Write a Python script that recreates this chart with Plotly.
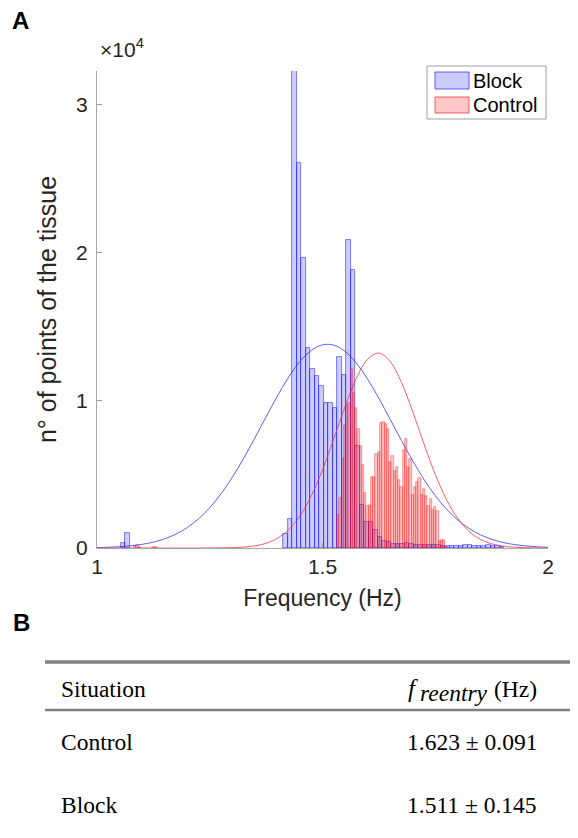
import plotly.graph_objects as go

# ---------------- data ----------------
blue_centers = [1.0575, 1.0675, 1.4175, 1.4275, 1.4375, 1.4475, 1.4575, 1.4675, 1.4775,
                1.4875, 1.4975, 1.5075, 1.5175, 1.5275, 1.5375, 1.5475, 1.5575, 1.5675,
                1.5775, 1.5875, 1.5975, 1.6075, 1.6175, 1.6275, 1.6375, 1.6475, 1.6575,
                1.6675, 1.6775, 1.6875, 1.6975, 1.7075, 1.7175, 1.7275, 1.7375, 1.7475,
                1.7575, 1.7675, 1.7775, 1.7875, 1.7975, 1.8075, 1.8175, 1.8275, 1.8375,
                1.8475, 1.8575, 1.8675, 1.8775, 1.8875, 1.8975]
blue_counts = [350, 1030, 920, 1940, 32300, 26060, 19640, 13560, 12140,
               11640, 10970, 9840, 9820, 9480, 12930, 11720, 20880, 18830,
               6900, 2900, 1745, 1745, 1200, 730, 500, 380, 290,
               260, 300, 330, 300, 230, 190, 190, 190, 180,
               170, 120, 120, 120, 130, 150, 170, 170, 150,
               140, 160, 170, 140, 110, 80]

red_centers = [1.085, 1.090, 1.095, 1.125, 1.130,
               1.535, 1.540, 1.545, 1.550, 1.555, 1.560, 1.565, 1.570, 1.575, 1.580,
               1.585, 1.590, 1.595, 1.600, 1.605, 1.610, 1.615, 1.620, 1.625, 1.630,
               1.635, 1.640, 1.645, 1.650, 1.655, 1.660, 1.665, 1.670, 1.675, 1.680,
               1.685, 1.690, 1.695, 1.700, 1.705, 1.710, 1.715, 1.720, 1.725, 1.730,
               1.735, 1.740, 1.745, 1.750, 1.755, 1.760, 1.765, 1.770, 1.775]
red_counts = [150, 170, 100, 60, 40,
              2250, 3390, 6000, 8300, 9700, 9800, 12100, 10500, 9470, 8050,
              6930, 5640, 3730, 2870, 2900, 4800, 4800, 6390, 6510, 8460,
              8500, 8400, 8090, 5800, 6200, 5240, 5500, 4630, 4140, 6610,
              7410, 5500, 6030, 3610, 4130, 4450, 4760, 3610, 4000, 3500,
              2830, 3300, 2600, 2800, 2490, 460, 575, 575, 100]

curve_x = [1.000, 1.025, 1.050, 1.075, 1.100, 1.125, 1.150, 1.175, 1.200, 1.225,
           1.250, 1.275, 1.300, 1.325, 1.350, 1.375, 1.400, 1.425, 1.450, 1.475,
           1.500, 1.525, 1.550, 1.575, 1.600, 1.625, 1.650, 1.675, 1.700, 1.725,
           1.750, 1.775, 1.800, 1.825, 1.850, 1.875, 1.900, 1.925, 1.950, 1.975, 2.000]
blue_fit = [28, 50, 88, 150, 248, 399, 622, 941, 1384, 1973,
            2731, 3668, 4786, 6060, 7453, 8887, 10295, 11574, 12631, 13382,
            13760, 13736, 13310, 12519, 11431, 10132, 8715, 7278, 5904, 4645,
            3548, 2632, 1894, 1322, 897, 591, 377, 234, 141, 83, 47]
red_fit = [0, 0, 0, 0, 0, 0, 0, 0, 0, 1,
           3, 9, 24, 62, 147, 322, 657, 1238, 2167, 3519,
           5293, 7391, 9569, 11487, 12786, 13197, 12631, 11211, 9228, 7042,
           4983, 3272, 1991, 1123, 588, 285, 128, 54, 21, 7, 2]

x_ticks = [1, 1.5, 2]
x_tick_text = ["1", "1.5", "2"]
y_ticks = [0, 10000, 20000, 30000]
y_tick_text = ["0", "1", "2", "3"]

series_names = ["Block", "Control"]
table_header = ["Situation", "(Hz)"]
table_rows = [["Control", "1.623 ± 0.091"], ["Block", "1.511 ± 0.145"]]

# ---------------- layout geometry ----------------
# the page body has an 8 px margin, so the figure is drawn 8 px smaller
OFF = 8
W, H = 578 - OFF, 838 - OFF
L, R, T, B = 97 - OFF, 30, 71 - OFF, 290
PW, PH = W - L - R, H - T - B


def px(X):  # reference page x -> paper
    return (X - OFF - L) / PW


def py(Y):  # reference page y -> paper
    return (H - B - (Y - OFF)) / PH


BLUE_FILL = "rgba(0,0,255,0.2)"
BLUE_EDGE = "rgba(0,0,255,0.6)"
RED_FILL = "rgba(255,0,0,0.22)"
RED_EDGE = "rgba(255,0,0,0.6)"
AX = "#262626"
SANS = "Liberation Sans, Arial, sans-serif"
SERIF = "Liberation Serif, Times New Roman, serif"

fig = go.Figure()
fig.add_trace(go.Bar(x=blue_centers, y=blue_counts, width=0.01, name=series_names[0],
                     marker=dict(color=BLUE_FILL, line=dict(color=BLUE_EDGE, width=0.8)),
                     showlegend=False))
fig.add_trace(go.Bar(x=red_centers, y=red_counts, width=0.005, name=series_names[1],
                     marker=dict(color=RED_FILL, line=dict(color=RED_EDGE, width=0.6)),
                     showlegend=False))
fig.add_trace(go.Scatter(x=curve_x, y=blue_fit, mode="lines", line_shape="spline",
                         line=dict(color="rgba(40,40,255,0.75)", width=1), showlegend=False))
fig.add_trace(go.Scatter(x=curve_x, y=red_fit, mode="lines", line_shape="spline",
                         line=dict(color="rgba(255,40,40,0.75)", width=1), showlegend=False))

fig.update_layout(
    width=W, height=H,
    margin=dict(l=L, r=R, t=T, b=B),
    paper_bgcolor="white", plot_bgcolor="white",
    barmode="overlay", bargap=0,
    font=dict(family=SANS, color=AX, size=21),
)
fig.update_xaxes(range=[1, 2], tickvals=x_ticks, ticktext=x_tick_text,
                 ticks="inside", ticklen=5, tickcolor="#a0a0a0",
                 showline=True, linecolor="#a8a8a8", linewidth=1,
                 showgrid=False, zeroline=False,
                 tickfont=dict(size=21, color=AX),
                 title=dict(text="Frequency (Hz)", font=dict(size=23, color=AX), standoff=12))
fig.update_yaxes(range=[0, 32300], tickvals=y_ticks, ticktext=y_tick_text,
                 ticks="inside", ticklen=5, tickcolor="#a0a0a0",
                 showline=True, linecolor="#a8a8a8", linewidth=1,
                 showgrid=False, zeroline=False, ticklabelstandoff=4,
                 tickfont=dict(size=21, color=AX),
                 title=dict(text="n° of points of the tissue", font=dict(size=25, color=AX), standoff=12))

shapes = []
ann = []

# exponent label
ann.append(dict(x=px(98), y=py(48), xref="paper", yref="paper", xanchor="left", yanchor="middle",
                text="×10<sup>4</sup>", showarrow=False, font=dict(size=21, color=AX, family=SANS)))

# legend (manual)
shapes.append(dict(type="rect", xref="paper", yref="paper", x0=px(427), x1=px(546), y0=py(66), y1=py(119),
                   line=dict(color="#a0a0a0", width=1), fillcolor="white"))
shapes.append(dict(type="rect", xref="paper", yref="paper", x0=px(435), x1=px(469), y0=py(72), y1=py(89),
                   line=dict(color=BLUE_EDGE, width=1), fillcolor=BLUE_FILL))
shapes.append(dict(type="rect", xref="paper", yref="paper", x0=px(435), x1=px(469), y0=py(97), y1=py(113),
                   line=dict(color=RED_EDGE, width=1), fillcolor=RED_FILL))
ann.append(dict(x=px(471), y=py(81), xref="paper", yref="paper", xanchor="left", yanchor="middle",
                text=series_names[0], showarrow=False, font=dict(size=20, color="black", family=SANS)))
ann.append(dict(x=px(471), y=py(105), xref="paper", yref="paper", xanchor="left", yanchor="middle",
                text=series_names[1], showarrow=False, font=dict(size=20, color="black", family=SANS)))

# panel letters
ann.append(dict(x=px(11), y=py(20), xref="paper", yref="paper", xanchor="left", yanchor="middle",
                text="<b>A</b>", showarrow=False, font=dict(size=24, color="black", family=SANS),
                borderpad=0))
ann.append(dict(x=px(11), y=py(622), xref="paper", yref="paper", xanchor="left", yanchor="middle",
                text="<b>B</b>", showarrow=False, font=dict(size=24, color="black", family=SANS)))

# table
shapes.append(dict(type="line", xref="paper", yref="paper", x0=px(45), x1=px(578), y0=py(662), y1=py(662),
                   line=dict(color="#808080", width=3.5)))
shapes.append(dict(type="line", xref="paper", yref="paper", x0=px(45), x1=px(578), y0=py(710), y1=py(710),
                   line=dict(color="#808080", width=2.5)))
TF = dict(size=23.5, color="black", family=SERIF)
ann.append(dict(x=px(59), y=py(689), xref="paper", yref="paper", xanchor="left", yanchor="middle",
                text=table_header[0], showarrow=False, font=TF))
ann.append(dict(x=px(539), y=py(689), xref="paper", yref="paper", xanchor="right", yanchor="middle",
                text=table_header[1], showarrow=False, font=TF))
ann.append(dict(x=px(490), y=py(693), xref="paper", yref="paper", xanchor="right", yanchor="middle",
                text="<i>reentry</i>", showarrow=False, font=dict(size=23.5, color="black", family=SERIF)))
ann.append(dict(x=px(420), y=py(688), xref="paper", yref="paper", xanchor="right", yanchor="middle",
                text="<i>f</i>", showarrow=False, font=dict(size=25, color="black", family=SERIF)))
for i, (lab, val) in enumerate(table_rows):
    yy = [742, 805][i]
    ann.append(dict(x=px(59), y=py(yy), xref="paper", yref="paper", xanchor="left", yanchor="middle",
                    text=lab, showarrow=False, font=TF))
    ann.append(dict(x=px(539), y=py(yy), xref="paper", yref="paper", xanchor="right", yanchor="middle",
                    text=val, showarrow=False, font=TF))

fig.update_layout(shapes=shapes, annotations=ann)
fig.write_html("out.html")
